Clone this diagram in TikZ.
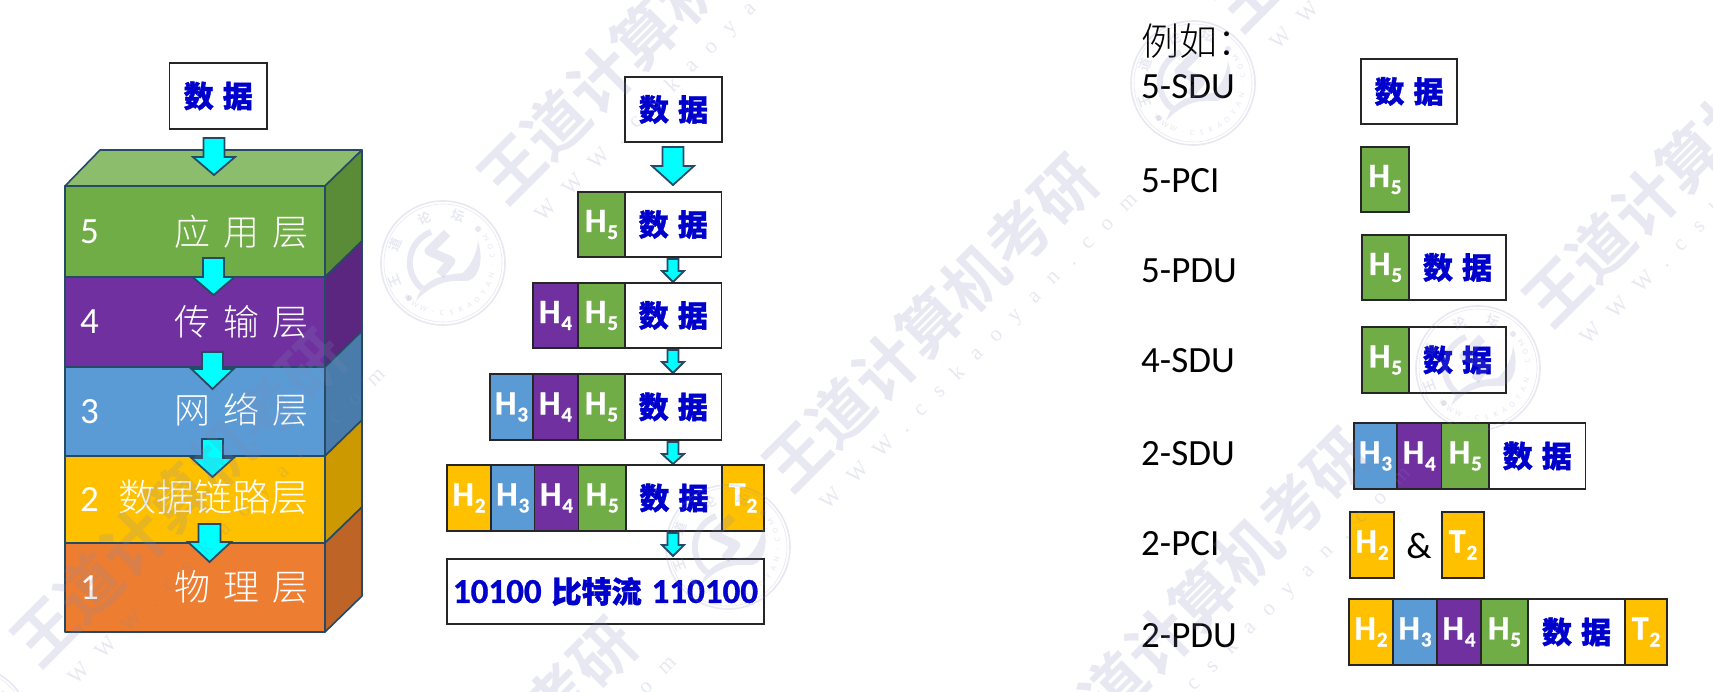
\documentclass[tikz,border=0pt]{standalone}
\usepackage{fontspec}
\setmainfont{Carlito}[BoldFeatures={FakeBold=0.8}]
\newfontfamily\cjk[BoldFeatures={FakeBold=1.2}]{Noto Sans CJK SC}
\newfontfamily\cjkl{Noto Sans CJK SC Light}
\newfontfamily\wmcjk{Noto Sans CJK SC Bold}
\newfontfamily\wmserif[LetterSpace=75]{Liberation Serif}
\definecolor{gr}{HTML}{70AD47}\definecolor{pu}{HTML}{7030A0}
\definecolor{bl}{HTML}{5B9BD5}\definecolor{ye}{HTML}{FFC000}
\definecolor{or}{HTML}{ED7D31}
\definecolor{grS}{HTML}{5A8C38}\definecolor{puS}{HTML}{5A2680}
\definecolor{blS}{HTML}{497CAA}\definecolor{yeS}{HTML}{CC9A00}
\definecolor{orS}{HTML}{BE6427}\definecolor{grT}{HTML}{8CBD6C}
\definecolor{edge}{HTML}{264A66}\definecolor{dblue}{HTML}{0000CC}
\definecolor{wm}{HTML}{8088B8}\definecolor{arrowfill}{HTML}{00FFFF}
\tikzset{
  cellbox/.style={draw=black!85,line width=1.8pt,inner sep=0pt,outer sep=0pt,align=center},
  layerface/.style={draw=edge,line width=1.6pt,line join=round},
  blockarrow/.style={draw=edge,fill=arrowfill,line width=1.8pt,line join=miter},
  lbl/.style={anchor=base west,inner sep=0pt,font=\fontsize{37}{37}\selectfont},
  laytext/.style={anchor=east,inner sep=0pt,text=white,font=\cjkl\fontsize{36}{36}\selectfont},
  laynum/.style={anchor=base west,inner sep=0pt,text=white,font=\fontsize{37}{37}\selectfont},
  wmtext/.style={rotate=45,inner sep=0pt,text=wm,text opacity=.19,font=\wmcjk\fontsize{63}{63}\selectfont},
  wmurl/.style={rotate=45,inner sep=0pt,text=wm,text opacity=.19,font=\wmserif\fontsize{22}{22}\selectfont},
}
\newcommand{\cellnode}[7]{%
  \pgfmathsetmacro\cw{#4-#2}\pgfmathsetmacro\ch{#5-#3}%
  \pgfmathsetmacro\cx{(#2+#4)/2}\pgfmathsetmacro\cy{(#3+#5)/2}%
  \node[cellbox,fill=#6,minimum width=\cw pt,minimum height=\ch pt] (#1) at (\cx,\cy) {#7};}
\newcommand{\Dat}{{\color{dblue}\cjk\bfseries\fontsize{30}{30}\selectfont 数\kern9pt 据}}
\newcommand{\Hs}[2]{{\color{white}\bfseries\fontsize{34}{34}\selectfont #1\kern1pt\raisebox{-7pt}{\fontsize{21}{21}\selectfont #2}}}
\newcommand{\barrow}[6]{% cx top shaft-half heady head-half tip
  \draw[blockarrow] ({#1-#3},#2) -- ({#1+#3},#2) -- ({#1+#3},#4) -- ({#1+#5},#4) -- (#1,#6) -- ({#1-#5},#4) -- ({#1-#3},#4) -- cycle;}
\newcommand{\layer}[4]{% y1 y2 face side
  \fill[#4,draw=edge,line width=1.6pt,line join=round] (325,#1) -- (362,{#1-36}) -- (362,{#2-36}) -- (325,#2) -- cycle;
  \draw[layerface,fill=#3] (65,#1) rectangle (325,#2);}
\newcommand{\wmark}[3]{% name cx cy of the slogan
  \node[wmtext] (#1a) at (#2,#3) {王道计算机考研};
  \node[wmurl] (#1b) at ({#2+50},{#3+29}) {WWW.cskaoyan.com};}
\newcommand{\seal}[3]{% name cx cy
  \begin{scope}[shift={(#2,#3)},opacity=.19,wm]
    \draw[line width=1.6pt] (0,0) circle (62);
    \draw[line width=.6pt] (0,0) circle (59);
    \draw[line width=6pt] (-12,-31) arc[start angle=-111,end angle=-231,radius=33];
    \fill (-27,38) .. controls (-20,15) and (0,12) .. (20,10) .. controls (30,0) and (34,-12) .. (35,-22)
      .. controls (42,0) and (34,20) .. (20,18) .. controls (0,16) and (-15,25) .. (-27,38) -- cycle;
    \draw[line width=9pt,line join=round] (4,-30) -- (-14,-12) -- (8,-2) -- (-3,12);
    \fill (35,-34) circle (3);\fill (-34,35) circle (3);
    \node[inner sep=0pt,rotate=111,font=\wmcjk\fontsize{13}{13}\selectfont] (#1a) at (-48,18) {王};
    \node[inner sep=0pt,rotate=69,font=\wmcjk\fontsize{13}{13}\selectfont] (#1b) at (-48,-18) {道};
    \node[inner sep=0pt,rotate=22,font=\wmcjk\fontsize{13}{13}\selectfont] (#1c) at (-18,-45) {论};
    \node[inner sep=0pt,rotate=-18,font=\wmcjk\fontsize{13}{13}\selectfont] (#1d) at (15,-47) {坛};
    \foreach \ch [count=\i] in {W,W,W,.,C,S,K,A,O,Y,A,N,.,C,O,M}{
      \pgfmathsetmacro\th{135-11*(\i-1)}
      \node[inner sep=0pt,rotate={90-\th},font=\fontsize{8}{8}\selectfont] (#1t\i) at (\th:50) {\ch};
    }
  \end{scope}}
\begin{document}
\begin{tikzpicture}[x=1pt,y=-1pt]
\useasboundingbox (0,0) rectangle (1713,692);
\fill[white] (0,0) rectangle (1713,692);

% --- stack ---
\fill[grT,draw=edge,line width=1.6pt,line join=round] (65,186) -- (100,150) -- (362,150) -- (325,186) -- cycle;
\layer{186}{277}{gr}{grS}
\layer{277}{367}{pu}{puS}
\layer{367}{456}{bl}{blS}
\layer{456}{543}{ye}{yeS}
\layer{543}{632}{or}{orS}
\node[laynum] (n5) at (80,244) {5};
\node[laynum] (n4) at (80,334) {4};
\node[laynum] (n3) at (80,423) {3};
\node[laynum] (n2) at (80,511) {2};
\node[laynum] (n1) at (80,599) {1};
\node[laytext] (l5) at (309,232) {应\kern13pt 用\kern13pt 层};
\node[laytext] (l4) at (309,322) {传\kern13pt 输\kern13pt 层};
\node[laytext] (l3) at (309,410) {网\kern13pt 络\kern13pt 层};
\node[laytext,font=\cjkl\fontsize{38}{38}\selectfont] (l2) at (309,497) {数据链路层};
\node[laytext] (l1) at (309,587) {物\kern13pt 理\kern13pt 层};
\cellnode{d0}{169.5}{63}{267}{129}{white}{\Dat}
\barrow{214}{138}{10.5}{157}{21}{175}
\barrow{213.5}{258}{10.5}{277}{21}{295}
\barrow{212.5}{352}{10.5}{369}{21}{389}
\barrow{212.5}{439}{10.5}{458}{21}{477}
\barrow{209.5}{524}{11}{542}{21.5}{562}

% --- encapsulation column ---
\cellnode{a0}{625}{77}{722}{142}{white}{\Dat}
\barrow{673}{147}{10.5}{166}{21}{185}
\cellnode{a1h5}{578}{192}{625}{257}{gr}{\Hs{H}{5}}
\cellnode{a1d}{625}{192}{721.5}{257}{white}{\Dat}
\barrow{673}{259}{5.5}{271}{11}{282}
\cellnode{a2h4}{533}{283}{578}{348}{pu}{\Hs{H}{4}}
\cellnode{a2h5}{578}{283}{625}{348}{gr}{\Hs{H}{5}}
\cellnode{a2d}{625}{283}{721.5}{348}{white}{\Dat}
\barrow{673}{350}{5.5}{362}{11}{373}
\cellnode{a3h3}{490}{374}{533}{440}{bl}{\Hs{H}{3}}
\cellnode{a3h4}{533}{374}{578}{440}{pu}{\Hs{H}{4}}
\cellnode{a3h5}{578}{374}{625}{440}{gr}{\Hs{H}{5}}
\cellnode{a3d}{625}{374}{721.5}{440}{white}{\Dat}
\barrow{673}{442}{5.5}{454}{11}{464}
\cellnode{a4h2}{447}{465}{491}{531}{ye}{\Hs{H}{2}}
\cellnode{a4h3}{491}{465}{534.5}{531}{bl}{\Hs{H}{3}}
\cellnode{a4h4}{534.5}{465}{578.5}{531}{pu}{\Hs{H}{4}}
\cellnode{a4h5}{578.5}{465}{626}{531}{gr}{\Hs{H}{5}}
\cellnode{a4d}{626}{465}{722}{531}{white}{\Dat}
\cellnode{a4t}{722}{465}{764}{531}{ye}{\Hs{T}{2}}
\barrow{673}{533}{5.5}{545}{11}{556}
\cellnode{bits}{447}{559}{764}{624}{white}{{\color{dblue}\bfseries\fontsize{35}{35}\selectfont 10100\kern10pt{\cjk\fontsize{30}{30}\selectfont 比特流}\kern10pt 110100}}

% --- right column ---
\node[anchor=west,inner sep=0pt,font=\cjkl\fontsize{38}{38}\selectfont] (ex) at (1141,41) {例如：};
\node[lbl] (t1) at (1141,99) {5-SDU};
\node[lbl] (t2) at (1141,193) {5-PCI};
\node[lbl] (t3) at (1141,283) {5-PDU};
\node[lbl] (t4) at (1141,373) {4-SDU};
\node[lbl] (t5) at (1141,465) {2-SDU};
\node[lbl] (t6) at (1141,555) {2-PCI};
\node[lbl] (t7) at (1141,647) {2-PDU};
\cellnode{r1}{1361}{59}{1457}{124}{white}{\Dat}
\cellnode{r2}{1361}{147}{1409}{212}{gr}{\Hs{H}{5}}
\cellnode{r3h}{1362}{235}{1409}{300}{gr}{\Hs{H}{5}}
\cellnode{r3d}{1409}{235}{1506}{300}{white}{\Dat}
\cellnode{r4h}{1362}{327}{1409}{393}{gr}{\Hs{H}{5}}
\cellnode{r4d}{1409}{327}{1506}{393}{white}{\Dat}
\cellnode{r5h3}{1354}{423}{1397}{489}{bl}{\Hs{H}{3}}
\cellnode{r5h4}{1397}{423}{1441.5}{489}{pu}{\Hs{H}{4}}
\cellnode{r5h5}{1441.5}{423}{1489}{489}{gr}{\Hs{H}{5}}
\cellnode{r5d}{1489}{423}{1585.5}{489}{white}{\Dat}
\cellnode{r6h}{1350}{512}{1394}{578}{ye}{\Hs{H}{2}}
\node[anchor=base,inner sep=0pt,font=\fontsize{37}{37}\selectfont] (amp) at (1419,558) {\&};
\cellnode{r6t}{1442}{512}{1484}{578}{ye}{\Hs{T}{2}}
\cellnode{r7h2}{1349}{599}{1393}{665}{ye}{\Hs{H}{2}}
\cellnode{r7h3}{1393}{599}{1437}{665}{bl}{\Hs{H}{3}}
\cellnode{r7h4}{1437}{599}{1481}{665}{pu}{\Hs{H}{4}}
\cellnode{r7h5}{1481}{599}{1528}{665}{gr}{\Hs{H}{5}}
\cellnode{r7d}{1528}{599}{1625}{665}{white}{\Dat}
\cellnode{r7t}{1625}{599}{1667}{665}{ye}{\Hs{T}{2}}

% --- watermark, printed over everything ---
\wmark{wa}{645}{35}
\wmark{wb}{930}{323}
\wmark{wc}{178}{498}
\wmark{wd}{469}{786}
\wmark{we}{1203}{597}
\wmark{wf}{1690}{158}
\wmark{wg}{1380}{-137}
\seal{sa}{443}{263}
\seal{sb}{1193}{83}
\seal{sc}{1478}{368}
\seal{sd}{728}{547}
\seal{se}{-32}{728}
\end{tikzpicture}
\end{document}
